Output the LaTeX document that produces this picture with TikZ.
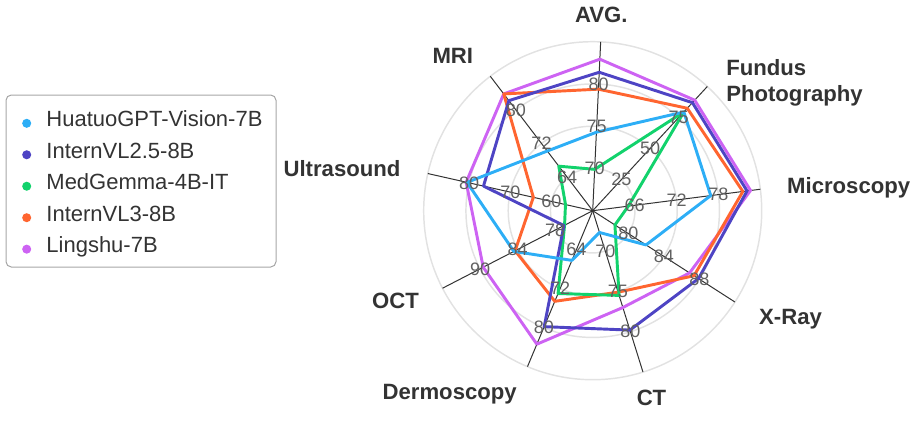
\documentclass[tikz,border=0pt]{standalone}
\usepackage{fontspec}
\setmainfont{Liberation Sans}
\usetikzlibrary{positioning}

\definecolor{huatuo}{HTML}{2DAEF6}
\definecolor{internvlA}{HTML}{4E44C4}
\definecolor{medgemma}{HTML}{12D26C}
\definecolor{internvlB}{HTML}{FF6530}
\definecolor{lingshu}{HTML}{CD63F3}
\definecolor{gridgray}{HTML}{E2E2E2}
\definecolor{textgray}{HTML}{333333}

% per-axis scale: value at the centre, value per ring
\def\axmin{{65,0,60,76,65,56,72,50,56}}
\def\axstep{{5,25,6,4,5,8,6,10,8}}

\begin{document}
\begin{tikzpicture}[x=0.75pt, y=-0.75pt, node distance={23.6pt},
    ring/.style = {draw=gridgray, line width=1.1pt},
    spoke/.style = {draw=textgray, line width=0.75pt},
    series/.style = {line width=2.2pt, line join=round},
    tick/.style = {text=black!62, inner sep=0pt, font=\fontsize{13.5}{15}\selectfont},
    axlabel/.style = {text=textgray, inner sep=0pt, anchor=base, font=\bfseries\fontsize{16.6}{20}\selectfont},
    dot/.style = {circle, fill=#1, inner sep=0pt, minimum size=6.8pt},
    entry/.style = {text=textgray, inner sep=0pt, font=\fontsize{16.5}{18}\selectfont}]
    \useasboundingbox (0,0) rectangle (913,439);

    \begin{scope}[shift={(592.7,210.7)}]
        \foreach \n in {1,...,4}
            \draw[ring] (0,0) circle [radius=42.25*\n];
        \foreach \i in {0,...,8}
            \draw[spoke] (0,0) -- ({-87.3+40*\i}:169) coordinate (ax\i);

        % models, drawn back to front
        \foreach \name/\col/\vals in {
            ls/lingshu/{82.95,89,82.6,86.9,77,83.4,89.5,80.7,83.8},
            vlb/internvlB/{79.4,82.5,81.5,87.4,75.1,74.6,84.4,64.4,83.8},
            mg/medgemma/{69.9,79.5,65.1,78.5,75.5,73,76.5,56.6,66.6},
            vla/internvlA/{81.4,87,82.1,87.9,79.8,79.8,76.6,76.5,82.2},
            hg/huatuo/{74.3,79.5,76.9,82,67.7,66.2,84.6,80.5,70.2}} {
            \foreach \val [count=\j from 0] in \vals {
                \pgfmathsetmacro\rad{(\val-\axmin[\j])/\axstep[\j]*42.25}
                \coordinate (\name\j) at ({-87.3+40*\j}:\rad);
            }
            \draw[series, \col] (\name0) \foreach \j in {1,...,8} {-- (\name\j)} -- cycle;
        }

        \foreach \i in {0,...,8}
            \foreach \n in {1,2,3} {
                \pgfmathtruncatemacro\tv{\axmin[\i]+\n*\axstep[\i]}
                \node[tick] (t\i\n) at ({-87.3+40*\i}:42.25*\n) {\tv};
            }
    \end{scope}

    \node[axlabel] (avg) at (601.3,22.7) {AVG.};
    \node[axlabel, anchor=north west, align=left] (fundus) at (726,59) {Fundus\\Photography};
    \node[axlabel] (micro) at (848.7,193.3) {Microscopy};
    \node[axlabel] (xray) at (790.5,324) {X-Ray};
    \node[axlabel] (ct) at (651.5,405) {CT};
    \node[axlabel] (derm) at (449.7,399.3) {Dermoscopy};
    \node[axlabel] (oct) at (395.5,308.3) {OCT};
    \node[axlabel] (us) at (342,176) {Ultrasound};
    \node[axlabel] (mri) at (452.8,63.3) {MRI};

    % legend
    \draw[draw=black!35, line width=0.75pt, rounded corners=4pt] (6,95) rectangle (276,267);
    \node[dot=huatuo] (d1) at (26.7,123.3) {};
    \node[dot=internvlA] (d2) [below of = d1] {};
    \node[dot=medgemma] (d3) [below of = d2] {};
    \node[dot=internvlB] (d4) [below of = d3] {};
    \node[dot=lingshu] (d5) [below of = d4] {};
    \node[entry, right=11pt of d1, anchor=base west, yshift=-2.6pt] (e1) {HuatuoGPT-Vision-7B};
    \node[entry, right=11pt of d2, anchor=base west, yshift=-2.6pt] (e2) {InternVL2.5-8B};
    \node[entry, right=11pt of d3, anchor=base west, yshift=-2.6pt] (e3) {MedGemma-4B-IT};
    \node[entry, right=11pt of d4, anchor=base west, yshift=-2.6pt] (e4) {InternVL3-8B};
    \node[entry, right=11pt of d5, anchor=base west, yshift=-2.6pt] (e5) {Lingshu-7B};
\end{tikzpicture}
\end{document}
